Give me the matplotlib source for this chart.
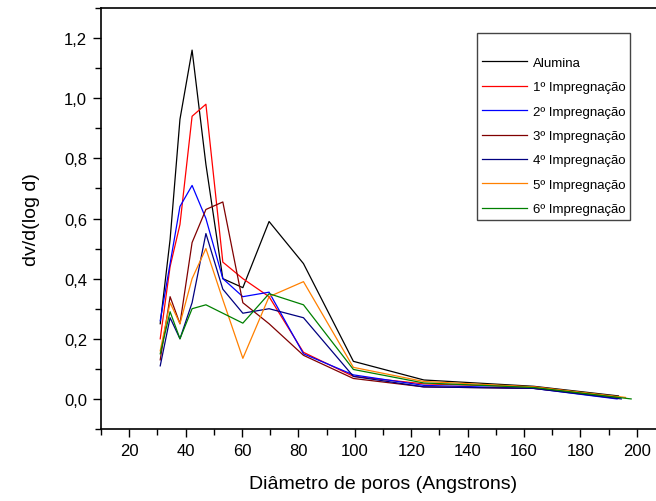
import matplotlib
matplotlib.use('Agg')
import matplotlib.pyplot as plt
from matplotlib.ticker import MultipleLocator, FuncFormatter

plt.rcParams['font.family'] = ['Liberation Sans', 'DejaVu Sans']

# pore diameters (Angstrons), shared by all series except the last point
diam = [31, 34.5, 38, 42.3, 47.2, 53.2, 60.3, 69.6, 81.8, 99.5, 124.5, 163.5]
end_x = {'Alumina': 193.5, '1º': 193.5, '2º': 193.0, '3º': 194.0,
         '4º': 194.5, '5º': 196.0, '6º': 198.0}

alumina = [0.25, 0.53, 0.93, 1.16, 0.78, 0.40, 0.37, 0.59, 0.45, 0.125, 0.063, 0.042, 0.010]
imp1 = [0.20, 0.44, 0.58, 0.94, 0.98, 0.455, 0.40, 0.34, 0.155, 0.075, 0.050, 0.040, 0.005]
imp2 = [0.26, 0.45, 0.64, 0.71, 0.60, 0.40, 0.34, 0.355, 0.150, 0.080, 0.045, 0.035, 0.000]
imp3 = [0.13, 0.34, 0.25, 0.52, 0.63, 0.655, 0.32, 0.25, 0.145, 0.068, 0.040, 0.035, 0.005]
imp4 = [0.11, 0.27, 0.20, 0.32, 0.55, 0.365, 0.285, 0.30, 0.270, 0.075, 0.040, 0.035, 0.000]
imp5 = [0.16, 0.32, 0.25, 0.40, 0.50, 0.33, 0.135, 0.34, 0.390, 0.105, 0.058, 0.040, 0.005]
imp6 = [0.15, 0.29, 0.20, 0.30, 0.313, 0.285, 0.252, 0.35, 0.313, 0.098, 0.053, 0.038, 0.000]

series = [
    ('Alumina', alumina, 'black', 'Alumina'),
    ('1º', imp1, 'red', '1º Impregnação'),
    ('2º', imp2, 'blue', '2º Impregnação'),
    ('3º', imp3, '#800000', '3º Impregnação'),
    ('4º', imp4, '#000080', '4º Impregnação'),
    ('5º', imp5, '#FF8000', '5º Impregnação'),
    ('6º', imp6, '#008000', '6º Impregnação'),
]

fig = plt.figure(figsize=(6.56, 5.02), dpi=100)
ax = fig.add_axes([101/656, 72/502, 564/656, 421/502])

for key, vals, col, lab in series:
    ax.plot(diam + [end_x[key]], vals, color=col, lw=0.9, label=lab)

ax.set_xlim(10, 210)
ax.set_ylim(-0.1, 1.3)
ax.xaxis.set_major_locator(MultipleLocator(20))
ax.xaxis.set_minor_locator(MultipleLocator(10))
ax.yaxis.set_major_locator(MultipleLocator(0.2))
ax.yaxis.set_minor_locator(MultipleLocator(0.1))
ax.yaxis.set_major_formatter(FuncFormatter(lambda v, p: ('%.1f' % v).replace('.', ',')))
ax.tick_params(which='major', direction='out', length=6, width=1, labelsize=12, pad=4)
ax.tick_params(which='minor', direction='out', length=4, width=1)
ax.tick_params(top=False, right=False)
for s in ax.spines.values():
    s.set_linewidth(1.2)

ax.set_xlabel('Diâmetro de poros (Angstrons)', fontsize=14, labelpad=12)
ax.set_ylabel('dv/d(log d)', fontsize=14, labelpad=17)

leg = ax.legend(loc='upper right', bbox_to_anchor=(630/656, 1 - 34/502),
                bbox_transform=fig.transFigure, fontsize=9.5, title=' ',
                title_fontsize=6, handlelength=3.4, handletextpad=0.45,
                labelspacing=0.92, borderpad=0.35, borderaxespad=0,
                fancybox=False, framealpha=1)
leg.get_frame().set_edgecolor('#444444')
leg.get_frame().set_linewidth(1.0)

plt.savefig('out.png', dpi=100)
